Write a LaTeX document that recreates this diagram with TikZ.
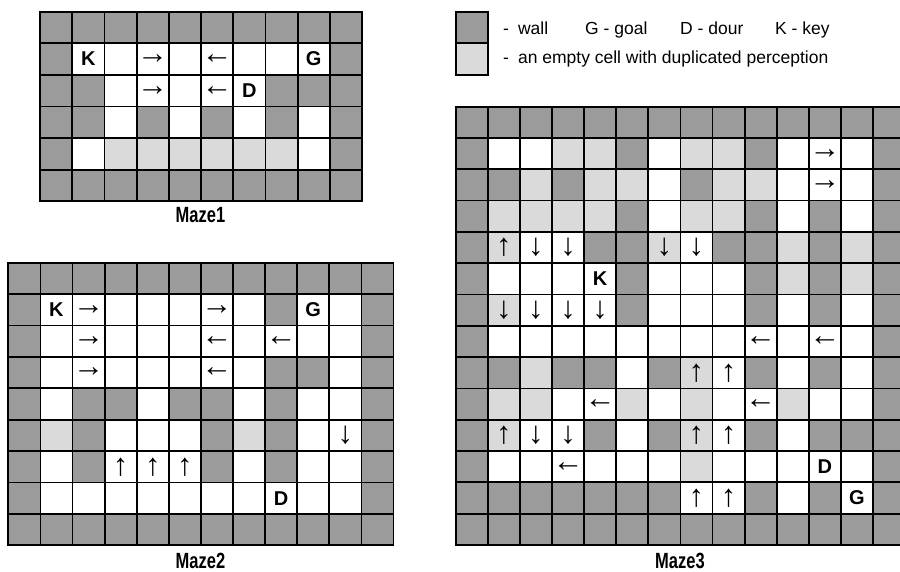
\documentclass[tikz,border=0pt]{standalone}
\usepackage{fontspec}
\usepackage{graphicx}
\setmainfont{Liberation Sans}
\newfontfamily\arrowfont{Liberation Serif}
\definecolor{mw}{HTML}{9B9B9B}
\definecolor{me}{HTML}{FFFFFF}
\definecolor{md}{HTML}{DADADA}
\tikzset{
  cell/.style={draw=black,line width=1.8pt,fill=m#1},
  celltag/.style={font=\fontsize{20}{20}\selectfont\bfseries,inner sep=0pt},
  move/.style={font=\arrowfont\fontsize{31}{31}\selectfont,inner sep=0pt},
  caption/.style={font=\fontsize{22}{22}\selectfont\bfseries,anchor=base,inner sep=0pt},
  legendtext/.style={font=\fontsize{17.5}{17.5}\selectfont,anchor=base west,inner sep=0pt}
}
\newcommand{\mazegrid}[1]{%
  \foreach \row [count=\r from 0] in {#1}
    \foreach \c [count=\k from 0] in \row
      \path[cell=\c] (\k,\r) rectangle ++(1,1);}

\begin{document}
\begin{tikzpicture}
  \useasboundingbox (0,0) rectangle (900pt,-572pt);
  % Maze1
  \begin{scope}[shift={(40pt,-11.7pt)},x=32.2pt,y=-31.6pt]
    \mazegrid{{w,w,w,w,w,w,w,w,w,w},{w,e,e,e,e,e,e,e,e,w},{w,w,e,e,e,e,e,w,w,w},
      {w,w,e,w,e,w,e,w,e,w},{w,e,d,d,d,d,d,d,e,w},{w,w,w,w,w,w,w,w,w,w}}
    \node[celltag] (m1key) at (1.5,1.5) {K};
    \node[celltag] (m1goal) at (8.5,1.5) {G};
    \node[celltag] (m1door) at (6.5,2.5) {D};
    \foreach \c/\r/\a [count=\n] in {3/1/→,5/1/←,3/2/→,5/2/←}
      \node[move] (m1a\n) at (\c+0.5,\r+0.5) {\a};
  \end{scope}
  \node[caption] (cap1) at (200.5pt,-223pt) {\scalebox{0.75}[1]{Maze1}};
  % Maze2
  \begin{scope}[shift={(8.3pt,-262.7pt)},x=32.1pt,y=-31.4pt]
    \mazegrid{{w,w,w,w,w,w,w,w,w,w,w,w},{w,e,e,e,e,e,e,e,w,e,e,w},
      {w,e,e,e,e,e,e,e,e,e,e,w},{w,e,e,e,e,e,e,e,w,w,e,w},
      {w,e,w,w,e,w,w,e,w,e,e,w},{w,d,w,e,e,e,w,d,w,e,e,w},
      {w,e,w,e,e,e,w,e,w,e,e,w},{w,e,e,e,e,e,e,e,e,e,e,w},
      {w,w,w,w,w,w,w,w,w,w,w,w}}
    \node[celltag] (m2key) at (1.5,1.5) {K};
    \node[celltag] (m2goal) at (9.5,1.5) {G};
    \node[celltag] (m2door) at (8.5,7.5) {D};
    \foreach \c/\r/\a [count=\n] in {2/1/→,6/1/→,2/2/→,6/2/←,8/2/←,2/3/→,6/3/←,
        10/5/↓,3/6/↑,4/6/↑,5/6/↑}
      \node[move] (m2a\n) at (\c+0.5,\r+0.5) {\a};
  \end{scope}
  \node[caption] (cap2) at (200.5pt,-568pt) {\scalebox{0.75}[1]{Maze2}};
  % Maze3
  \begin{scope}[shift={(455.7pt,-106.7pt)},x=32.1pt,y=-31.3pt]
    \mazegrid{{w,w,w,w,w,w,w,w,w,w,w,w,w,w},{w,e,e,d,d,w,e,d,d,w,e,e,e,w},
      {w,w,d,w,d,d,e,w,d,d,e,e,e,w},{w,d,d,d,d,w,e,d,d,w,e,w,e,w},
      {w,d,e,e,w,w,d,e,w,w,d,w,d,w},{w,e,e,e,e,w,e,e,e,w,d,w,d,w},
      {w,d,e,e,e,w,e,e,e,w,e,w,e,w},{w,e,e,e,e,e,e,e,e,e,e,e,e,w},
      {w,w,d,w,w,e,w,d,e,w,e,w,e,w},{w,d,d,e,e,d,e,d,e,e,d,e,e,w},
      {w,d,e,e,w,e,w,d,e,w,e,w,w,w},{w,e,e,e,e,e,e,d,e,e,e,e,e,w},
      {w,w,w,w,w,w,w,e,e,w,e,w,e,w},{w,w,w,w,w,w,w,w,w,w,w,w,w,w}}
    \node[celltag] (m3key) at (4.5,5.5) {K};
    \node[celltag] (m3door) at (11.5,11.5) {D};
    \node[celltag] (m3goal) at (12.5,12.5) {G};
    \foreach \c/\r/\a [count=\n] in {11/1/→,11/2/→,1/4/↑,2/4/↓,3/4/↓,6/4/↓,7/4/↓,
        1/6/↓,2/6/↓,3/6/↓,4/6/↓,9/7/←,11/7/←,7/8/↑,8/8/↑,4/9/←,9/9/←,
        1/10/↑,2/10/↓,3/10/↓,7/10/↑,8/10/↑,3/11/←,7/12/↑,8/12/↑}
      \node[move] (m3a\n) at (\c+0.5,\r+0.5) {\a};
  \end{scope}
  \node[caption] (cap3) at (680pt,-568pt) {\scalebox{0.75}[1]{Maze3}};
  % legend
  \path[cell=w] (455.7pt,-11.7pt) rectangle (488.3pt,-43.3pt);
  \path[cell=d] (455.7pt,-43.3pt) rectangle (488.3pt,-75pt);
  \node[legendtext] (wall) at (503pt,-35pt) {-\hspace{9pt}wall};
  \node[legendtext] (goal) at (585pt,-35pt) {G - goal};
  \node[legendtext] (door) at (680pt,-35pt) {D - dour};
  \node[legendtext] (key) at (775pt,-35pt) {K - key};
  \node[legendtext] (dup) at (503pt,-63.3pt) {-\hspace{9pt}an empty cell with duplicated perception};
\end{tikzpicture}
\end{document}
